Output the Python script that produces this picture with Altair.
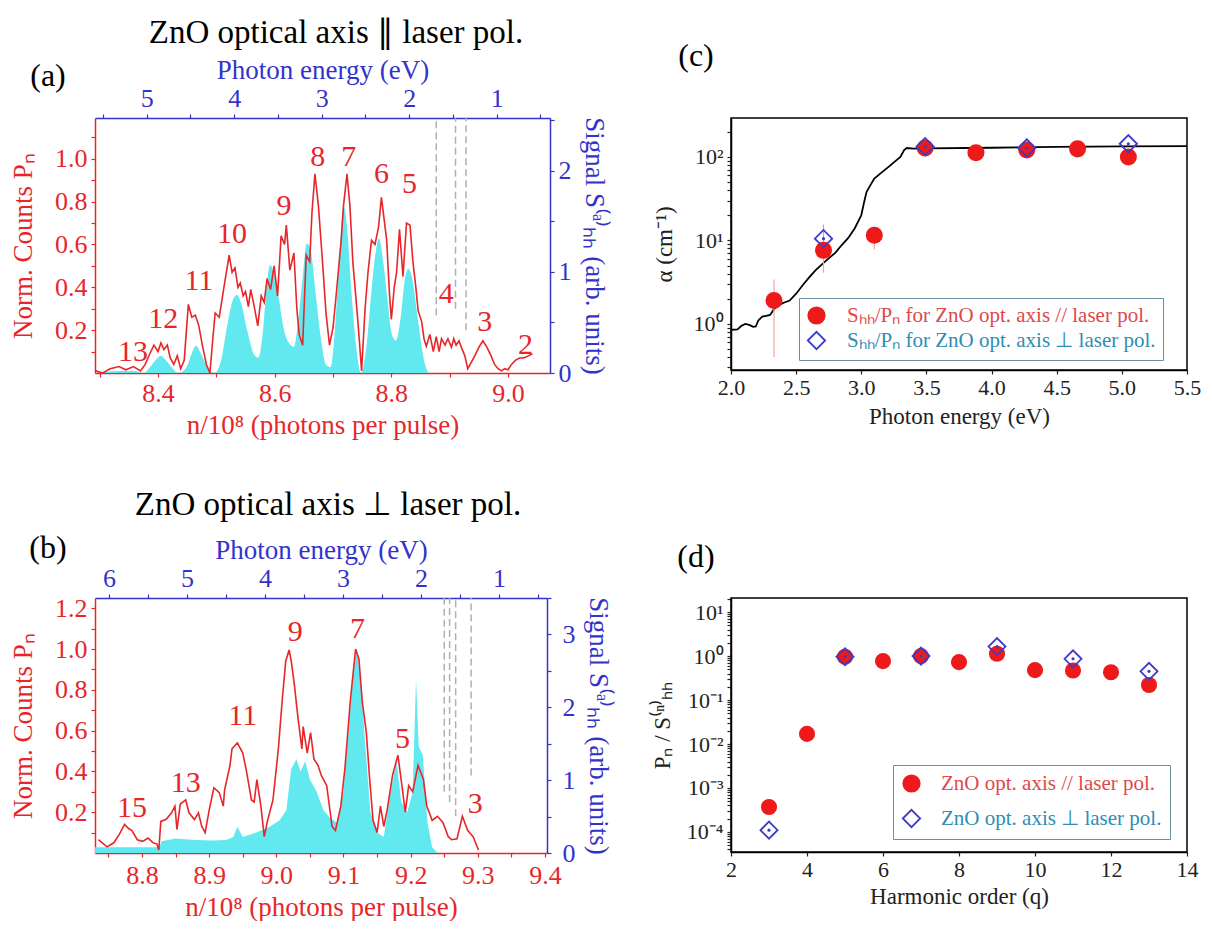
import altair as alt
import pandas as pd

FONT = "Liberation Serif"
RED = "#e8262a"
BLUE = "#3333cc"
CYAN = "#62e9ef"
GRAY = "#b0b0b0"
DOTRED = "#ee1a1a"
DIAM = "#3c3cc8"
LRED = "#e0484a"
TEAL = "#2f8db5"
INK = "#222222"

# ---------------- panel (a): optical axis parallel ----------------
a_red_n = [8.293, 8.305, 8.318, 8.333, 8.345, 8.358, 8.370, 8.378, 8.386, 8.393,
           8.400, 8.405, 8.410, 8.416, 8.421, 8.427, 8.433, 8.439, 8.445, 8.452,
           8.458, 8.464, 8.470, 8.476, 8.483, 8.489, 8.494, 8.498, 8.505, 8.513,
           8.522, 8.527, 8.532, 8.537, 8.541, 8.546, 8.550, 8.555, 8.559, 8.565,
           8.571, 8.577, 8.582, 8.587, 8.593, 8.599, 8.605, 8.611, 8.617, 8.620,
           8.626, 8.633, 8.638, 8.642, 8.648, 8.654, 8.660, 8.664, 8.669, 8.675,
           8.682, 8.688, 8.694, 8.700, 8.705, 8.709, 8.714, 8.718, 8.724, 8.729,
           8.734, 8.739, 8.743, 8.749, 8.755, 8.760, 8.766, 8.772, 8.778, 8.783,
           8.788, 8.792, 8.797, 8.800, 8.805, 8.809, 8.814, 8.820, 8.826, 8.832,
           8.837, 8.842, 8.846, 8.852, 8.856, 8.860, 8.866, 8.872, 8.877, 8.882,
           8.886, 8.892, 8.897, 8.903, 8.907, 8.911, 8.916, 8.920, 8.926, 8.931,
           8.937, 8.943, 8.950, 8.957, 8.964, 8.971, 8.977, 8.983, 8.989, 8.994,
           9.000, 9.006, 9.013, 9.020, 9.027, 9.035, 9.042]
a_red_v = [0.01, 0.00, 0.02, 0.03, 0.015, 0.03, 0.01, 0.04, 0.09, 0.13,
           0.10, 0.14, 0.11, 0.13, 0.07, 0.04, 0.08, 0.02, 0.06, 0.32,
           0.26, 0.27, 0.22, 0.13, 0.04, 0.00, 0.16, 0.28, 0.26, 0.40,
           0.55, 0.47, 0.49, 0.40, 0.42, 0.36, 0.38, 0.31, 0.39, 0.31,
           0.22, 0.36, 0.33, 0.44, 0.39, 0.50, 0.36, 0.64, 0.60, 0.69,
           0.48, 0.56, 0.30, 0.18, 0.13, 0.55, 0.52, 0.75, 0.93, 0.78,
           0.52, 0.28, 0.13, 0.21, 0.35, 0.47, 0.62, 0.78, 0.93, 0.78,
           0.52, 0.36, 0.23, 0.01, 0.30, 0.47, 0.62, 0.60, 0.68, 0.82,
           0.71, 0.62, 0.36, 0.25, 0.40, 0.47, 0.67, 0.45, 0.70, 0.69,
           0.52, 0.40, 0.29, 0.24, 0.16, 0.125, 0.18, 0.10, 0.17, 0.10,
           0.16, 0.13, 0.16, 0.12, 0.16, 0.13, 0.15, 0.12, 0.08, 0.02,
           0.05, 0.08, 0.12, 0.15, 0.12, 0.08, 0.04, 0.02, 0.01, 0.02,
           0.015, 0.04, 0.06, 0.07, 0.07, 0.08, 0.09]
a_cyan_n = [8.292, 8.330, 8.360, 8.375, 8.388, 8.398, 8.405, 8.413, 8.423, 8.435,
            8.448, 8.457, 8.465, 8.473, 8.483, 8.497, 8.508, 8.518, 8.527, 8.535,
            8.543, 8.553, 8.565, 8.572, 8.580, 8.587, 8.592, 8.598, 8.606, 8.615,
            8.624, 8.633, 8.641, 8.648, 8.655, 8.662, 8.670, 8.679, 8.688, 8.696,
            8.703, 8.710, 8.718, 8.724, 8.731, 8.739, 8.748, 8.758, 8.765, 8.772,
            8.779, 8.786, 8.794, 8.801, 8.808, 8.816, 8.823, 8.829, 8.836, 8.844,
            8.852, 8.858, 8.864]
a_cyan_s = [0.00, 0.02, 0.02, 0.00, 0.07, 0.14, 0.17, 0.13, 0.06, 0.00,
            0.05, 0.18, 0.27, 0.20, 0.08, 0.00, 0.12, 0.45, 0.70, 0.77,
            0.68, 0.42, 0.18, 0.15, 0.42, 0.90, 1.07, 1.00, 0.78, 0.45,
            0.30, 0.26, 0.55, 0.95, 1.28, 1.20, 0.80, 0.35, 0.08, 0.06,
            0.40, 1.05, 1.65, 1.45, 0.85, 0.30, 0.00, 0.30, 0.75, 1.15,
            1.33, 1.10, 0.70, 0.38, 0.32, 0.55, 0.92, 1.03, 0.93, 0.60,
            0.26, 0.08, 0.00]
a_lab_t = ["13", "12", "11", "10", "9", "8", "7", "6", "5", "4", "3", "2"]
a_lab_n = [8.357, 8.409, 8.470, 8.527, 8.616, 8.674, 8.727, 8.783, 8.831, 8.894, 8.960, 9.030]
a_lab_v = [0.10, 0.25, 0.43, 0.65, 0.78, 1.01, 1.01, 0.93, 0.88, 0.37, 0.24, 0.13]
a_dash_n = [8.877, 8.910, 8.928]
a_dash_v = [0.27, 0.30, 0.20]
a_xticks = [8.3, 8.4, 8.5, 8.6, 8.7, 8.8, 8.9, 9.0]
a_yticks = [0.1, 0.2, 0.3, 0.4, 0.5, 0.6, 0.7, 0.8, 0.9, 1.0, 1.1]
a_sticks = [0, 0.5, 1, 1.5, 2, 2.5]
a_eticks = [0.5, 1, 1.5, 2, 2.5, 3, 3.5, 4, 4.5, 5, 5.5]

# ---------------- panel (b): optical axis perpendicular ----------------
b_red_n = [8.735, 8.748, 8.758, 8.766, 8.774, 8.780, 8.785, 8.793, 8.801, 8.809,
           8.817, 8.822, 8.825, 8.828, 8.836, 8.844, 8.849, 8.852, 8.857, 8.865,
           8.870, 8.878, 8.884, 8.889, 8.894, 8.900, 8.907, 8.915, 8.921, 8.923,
           8.931, 8.934, 8.942, 8.950, 8.955, 8.963, 8.967, 8.971, 8.977, 8.982,
           8.987, 8.995, 9.003, 9.009, 9.014, 9.019, 9.022, 9.027, 9.032, 9.038,
           9.040, 9.046, 9.051, 9.056, 9.062, 9.067, 9.075, 9.083, 9.088, 9.096,
           9.102, 9.110, 9.118, 9.123, 9.128, 9.134, 9.139, 9.144, 9.150, 9.155,
           9.160, 9.165, 9.173, 9.181, 9.187, 9.192, 9.197, 9.203, 9.211, 9.219,
           9.224, 9.232, 9.240, 9.248, 9.256, 9.261, 9.269, 9.277, 9.285, 9.293,
           9.301]
b_red_v = [0.065, 0.03, 0.05, 0.09, 0.14, 0.12, 0.11, 0.065, 0.057, 0.073,
           0.049, 0.045, 0.015, 0.155, 0.165, 0.197, 0.23, 0.115, 0.24, 0.26,
           0.197, 0.164, 0.197, 0.13, 0.10, 0.21, 0.32, 0.296, 0.23, 0.31,
           0.43, 0.51, 0.54, 0.49, 0.41, 0.26, 0.25, 0.36, 0.23, 0.08,
           0.16, 0.26, 0.51, 0.76, 0.94, 0.995, 0.945, 0.82, 0.67, 0.51,
           0.62, 0.49, 0.59, 0.46, 0.43, 0.38, 0.33, 0.13, 0.11, 0.23,
           0.41, 0.74, 1.00, 0.95, 0.74, 0.59, 0.36, 0.16, 0.10, 0.23,
           0.13, 0.21, 0.38, 0.48, 0.33, 0.20, 0.33, 0.30, 0.43, 0.36,
           0.23, 0.16, 0.18, 0.15, 0.08, 0.065, 0.07, 0.18, 0.11, 0.08,
           0.015]
b_cyan_n = [8.730, 8.826, 8.829, 8.850, 8.880, 8.905, 8.925, 8.936, 8.942, 8.950,
            8.970, 8.990, 9.005, 9.015, 9.022, 9.030, 9.036, 9.043, 9.050, 9.060,
            9.070, 9.080, 9.090, 9.100, 9.108, 9.116, 9.120, 9.126, 9.132, 9.140,
            9.150, 9.160, 9.170, 9.179, 9.186, 9.195, 9.203, 9.208, 9.212, 9.218,
            9.225, 9.232, 9.240]
b_cyan_s = [0.08, 0.08, 0.16, 0.20, 0.18, 0.17, 0.18, 0.22, 0.36, 0.22,
            0.28, 0.36, 0.45, 0.59, 1.15, 1.29, 1.12, 1.26, 1.01, 0.84,
            0.59, 0.48, 0.42, 0.84, 1.74, 2.65, 2.78, 2.33, 1.54, 0.56,
            0.28, 0.22, 0.84, 1.26, 0.70, 0.56, 0.84, 2.39, 1.46, 1.35,
            0.42, 0.08, 0.00]
b_lab_t = ["15", "13", "11", "9", "7", "5", "3"]
b_lab_n = [8.785, 8.865, 8.950, 9.028, 9.121, 9.188, 9.296]
b_lab_v = [0.22, 0.345, 0.67, 1.085, 1.10, 0.56, 0.24]
b_dash_n = [9.250, 9.258, 9.267, 9.290]
b_dash_v = [0.30, 0.25, 0.18, 0.38]
b_xticks = [8.75, 8.8, 8.85, 8.9, 8.95, 9.0, 9.05, 9.1, 9.15, 9.2, 9.25, 9.3,
            9.35, 9.4]
b_yticks = [0.1, 0.2, 0.3, 0.4, 0.5, 0.6, 0.7, 0.8, 0.9, 1.0, 1.1, 1.2]
b_sticks = [0, 0.5, 1, 1.5, 2, 2.5, 3, 3.5]
b_eticks = [0.5, 1, 1.5, 2, 2.5, 3, 3.5, 4, 4.5, 5, 5.5, 6]

# ---------------- panel (c): absorption ----------------
c_line_e = [2.00, 2.05, 2.08, 2.11, 2.14, 2.17, 2.19, 2.21, 2.24, 2.27,
            2.30, 2.33, 2.36, 2.40, 2.45, 2.50, 2.55, 2.60, 2.65, 2.70,
            2.75, 2.80, 2.85, 2.90, 2.95, 3.00, 3.02, 3.04, 3.07, 3.10,
            3.15, 3.20, 3.25, 3.30, 3.33, 3.35, 3.40, 3.50, 4.00, 4.50,
            5.00, 5.50]
c_line_a = [0.85, 0.86, 0.95, 1.00, 0.97, 0.92, 0.93, 1.10, 1.22, 1.25,
            1.28, 1.50, 1.65, 1.78, 1.90, 2.30, 2.90, 3.60, 4.40, 5.20,
            6.10, 7.10, 8.80, 10.7, 14.0, 20.0, 28.0, 38.0, 46.0, 55.0,
            64.0, 74.0, 86.0, 100.0, 122.0, 128.0, 126.0, 127.0, 129.0, 132.0,
            134.0, 135.0]
c_par_e = [2.33, 2.71, 3.10, 3.49, 3.88, 4.27, 4.66, 5.05]
c_par_a = [1.9, 7.6, 11.5, 128.0, 112.0, 121.0, 125.0, 100.0]
c_par_err_e = [2.33, 2.71, 3.10]
c_par_err_lo = [0.4, 4.1, 7.8]
c_par_err_hi = [3.4, 10.0, 14.5]
c_perp_e = [2.71, 3.49, 4.27, 5.05]
c_perp_a = [10.5, 133.0, 128.0, 144.0]
c_perp_err_e = [2.71]
c_perp_err_lo = [8.0]
c_perp_err_hi = [15.5]
c_xticks = [2.0, 2.25, 2.5, 2.75, 3.0, 3.25, 3.5, 3.75, 4.0, 4.25, 4.5, 4.75,
            5.0, 5.25, 5.5]
c_yticks = [0.3, 0.4, 0.5, 0.6, 0.7, 0.8, 0.9, 1, 2, 3, 4, 5, 6, 7, 8, 9,
            10, 20, 30, 40, 50, 60, 70, 80, 90, 100, 200]
c_leg_par = "Sₕₕ/Pₙ for ZnO opt. axis // laser pol."
c_leg_perp = "Sₕₕ/Pₙ for ZnO opt. axis ⊥ laser pol."

# ---------------- panel (d): ratio vs harmonic order ----------------
d_par_q = [3, 4, 5, 6, 7, 8, 9, 10, 11, 12, 13]
d_par_p = [3.7e-4, 0.017, 0.97, 0.77, 1.0, 0.73, 1.13, 0.48, 0.47, 0.43, 0.22]
d_perp_q = [3, 5, 7, 9, 11, 13]
d_perp_p = [1.1e-4, 0.97, 1.0, 1.65, 0.87, 0.45]
d_xticks = [2, 3, 4, 5, 6, 7, 8, 9, 10, 11, 12, 13, 14]
d_yticks = [4e-5, 5e-5, 6e-5, 7e-5, 8e-5, 9e-5,
            1e-4, 2e-4, 3e-4, 4e-4, 5e-4, 6e-4, 7e-4, 8e-4, 9e-4,
            1e-3, 2e-3, 3e-3, 4e-3, 5e-3, 6e-3, 7e-3, 8e-3, 9e-3,
            1e-2, 2e-2, 3e-2, 4e-2, 5e-2, 6e-2, 7e-2, 8e-2, 9e-2,
            0.1, 0.2, 0.3, 0.4, 0.5, 0.6, 0.7, 0.8, 0.9,
            1, 2, 3, 4, 5, 6, 7, 8, 9, 10, 20]
d_leg_par = "ZnO opt. axis //  laser pol."
d_leg_perp = "ZnO opt. axis ⊥ laser pol."

L10 = "round(log(datum.value)/LN10)"
LOGLBL = ("abs(log(datum.value)/LN10 - " + L10 + ") > 0.01 ? '' : "
          + L10 + " == -4 ? '10⁻⁴' : " + L10 + " == -3 ? '10⁻³' : "
          + L10 + " == -2 ? '10⁻²' : " + L10 + " == -1 ? '10⁻¹' : "
          + L10 + " == 0 ? '10⁰' : " + L10 + " == 1 ? '10¹' : '10²'")


def axis(color, **kw):
    d = dict(grid=False, domainColor=color, tickColor=color, labelColor=color,
             titleColor=color, labelFont=FONT, titleFont=FONT,
             titleFontWeight="normal", domainWidth=1.5, tickWidth=1.2,
             labelFlush=False, labelOverlap=False)
    d.update(kw)
    return alt.Axis(**d)


def note(text, x, y, size, color="black", align="center", baseline="middle"):
    return alt.Chart(pd.DataFrame({"t": [text]})).mark_text(
        font=FONT, fontSize=size, color=color, align=align, baseline=baseline
    ).encode(x=alt.value(x), y=alt.value(y), text="t:N")


def spectrum(red_n, red_v, cy_n, cy_s, lab_t, lab_n, lab_v, dash_n, dash_v,
             xdom, ydom, sdom, edom, xticks, xlbl, yticks, sticks, eticks,
             w, h, heading, hx, hy, plabel, px, py, interp, rpad, bpad,
             extra=None):
    def xs():
        return alt.Scale(domain=xdom, nice=False, zero=False)

    def ys():
        return alt.Scale(domain=ydom, nice=False, zero=False)

    int_lbl = "datum.value == round(datum.value) ? format(datum.value, 'd') : ''"
    area = alt.Chart(pd.DataFrame({"n": cy_n, "s": cy_s})).mark_area(
        color=CYAN, clip=True, interpolate=interp, opacity=1
    ).encode(
        x=alt.X("n:Q", scale=xs(), axis=None),
        y=alt.Y("s:Q", scale=alt.Scale(domain=sdom, nice=False, zero=False),
                axis=axis(BLUE, orient="right", values=sticks, labelExpr=int_lbl,
                          title="Signal S⁽ᵃ⁾ₕₕ (arb. units)", labelFontSize=26,
                          titleFontSize=27, tickSize=4, labelPadding=rpad,
                          titlePadding=8)),
    )
    line = alt.Chart(pd.DataFrame({"n": red_n, "v": red_v})).mark_line(
        color=RED, strokeWidth=1.6, clip=True
    ).encode(
        x=alt.X("n:Q", scale=xs(),
                axis=axis(RED, orient="bottom", values=xticks, labelExpr=xlbl,
                          title="n/10⁸ (photons per pulse)", labelFontSize=26,
                          titleFontSize=27, tickSize=4, labelPadding=bpad,
                          titlePadding=6)),
        y=alt.Y("v:Q", scale=ys(),
                axis=axis(RED, orient="left", values=yticks,
                          labelExpr="round(datum.value*10) % 2 == 0 ? format(datum.value, '.1f') : ''",
                          title="Norm. Counts Pₙ", labelFontSize=26,
                          titleFontSize=27, tickSize=4, labelPadding=4,
                          titlePadding=17)),
    )
    dash = alt.Chart(pd.DataFrame({"n": dash_n, "v": dash_v})).mark_rule(
        color=GRAY, strokeDash=[7, 4], strokeWidth=1.5
    ).encode(
        x=alt.X("n:Q", scale=xs(), axis=None),
        y=alt.Y("v:Q", scale=ys(), axis=None),
        y2=alt.value(0),
    )
    labs = alt.Chart(pd.DataFrame({"t": lab_t, "n": lab_n, "v": lab_v})).mark_text(
        font=FONT, fontSize=30, color=RED
    ).encode(
        x=alt.X("n:Q", scale=xs(), axis=None),
        y=alt.Y("v:Q", scale=ys(), axis=None),
        text="t:N",
    )
    top = alt.Chart(pd.DataFrame({"e": eticks})).mark_point(opacity=0).encode(
        x=alt.X("e:Q", scale=alt.Scale(domain=edom, nice=False, zero=False, reverse=True),
                axis=axis(BLUE, orient="top", values=eticks, labelExpr=int_lbl,
                          title="Photon energy (eV)", labelFontSize=26,
                          titleFontSize=27, tickSize=4, labelPadding=3,
                          titlePadding=1)),
        y=alt.value(0),
    )
    layers = [area, dash, line, labs, top,
              note(heading, hx, hy, 33), note(plabel, px, py, 32)]
    if extra is not None:
        layers.append(extra)
    return alt.layer(*layers).resolve_scale(
        x="independent", y="independent"
    ).properties(width=w, height=h)


anchor = note(" ", -94, -117, 10, align="left", baseline="top")

pa = spectrum(a_red_n, a_red_v, a_cyan_n, a_cyan_s, a_lab_t, a_lab_n, a_lab_v,
              a_dash_n, a_dash_v,
              xdom=[8.292, 9.072], ydom=[0, 1.19], sdom=[0, 2.52], edom=[0.39, 5.59],
              xticks=a_xticks,
              xlbl="round(datum.value*10) % 2 == 0 ? format(datum.value, '.1f') : ''",
              yticks=a_yticks, sticks=a_sticks, eticks=a_eticks, w=455, h=255,
              heading="ZnO optical axis ∥ laser pol.", hx=241, hy=-85,
              plabel="(a)", px=-47, py=-42, interp="monotone", rpad=4, bpad=3,
              extra=anchor)

pb = spectrum(b_red_n, b_red_v, b_cyan_n, b_cyan_s, b_lab_t, b_lab_n, b_lab_v,
              b_dash_n, b_dash_v,
              xdom=[8.73, 9.403], ydom=[0, 1.25], sdom=[0, 3.5], edom=[0.385, 6.18],
              xticks=b_xticks,
              xlbl="round(datum.value*100) % 10 == 0 ? format(datum.value, '.1f') : ''",
              yticks=b_yticks, sticks=b_sticks, eticks=b_eticks, w=452, h=255,
              heading="ZnO optical axis ⊥ laser pol.", hx=233, hy=-93,
              plabel="(b)", px=-47, py=-50, interp="linear", rpad=11, bpad=5)


def legends(lx, ly, fs, pad, gap_title, gap_pad, loff):
    leg_par = alt.Legend(orient="none", legendX=lx, legendY=ly, title=None,
                         padding=pad, labelFont=FONT, labelFontSize=fs,
                         labelColor=LRED, symbolType="circle", symbolSize=330,
                         symbolStrokeWidth=0, labelOffset=loff, zindex=2,
                         labelLimit=500)
    leg_perp = alt.Legend(orient="none", legendX=lx, legendY=ly, title="\u00a0",
                          titleFontSize=gap_title, titlePadding=gap_pad,
                          padding=pad, labelFont=FONT, labelFontSize=fs,
                          labelColor=TEAL, symbolType="diamond", symbolSize=300,
                          symbolStrokeWidth=1.8, labelOffset=loff,
                          strokeColor="#6b8fa3", fillColor="white", zindex=1,
                          labelLimit=500)
    return leg_par, leg_perp


# panel (c)
xs_c = alt.Scale(domain=[2.0, 5.5], nice=False, zero=False)
ys_c = alt.Scale(type="log", domain=[0.28, 293], nice=False)
lp_c, lq_c = legends(68, 180, 21, 7, 20, 5, 20)

c_line = alt.Chart(pd.DataFrame({"e": c_line_e, "a": c_line_a})).mark_line(
    color="black", strokeWidth=1.8
).encode(
    x=alt.X("e:Q", scale=xs_c,
            axis=axis(INK, values=c_xticks,
                      labelExpr="datum.value*2 == round(datum.value*2) ? format(datum.value, '.1f') : ''",
                      title="Photon energy (eV)", labelFontSize=22, titleFontSize=23,
                      tickSize=4, labelPadding=3, titlePadding=7, domainColor="black")),
    y=alt.Y("a:Q", scale=ys_c,
            axis=axis(INK, values=c_yticks, labelExpr=LOGLBL,
                      title="α (cm⁻¹)", labelFontSize=22, titleFontSize=23,
                      tickSize=4, labelPadding=4, titlePadding=17, domainColor="black")),
)
c_err_par = alt.Chart(pd.DataFrame({"e": c_par_err_e, "lo": c_par_err_lo,
                                    "hi": c_par_err_hi})).mark_rule(
    color="#f3a3a3", strokeWidth=1.2
).encode(x=alt.X("e:Q", scale=xs_c), y=alt.Y("lo:Q", scale=ys_c), y2="hi:Q")
c_err_perp = alt.Chart(pd.DataFrame({"e": c_perp_err_e, "lo": c_perp_err_lo,
                                     "hi": c_perp_err_hi})).mark_rule(
    color="#a8a8e8", strokeWidth=1.2
).encode(x=alt.X("e:Q", scale=xs_c), y=alt.Y("lo:Q", scale=ys_c), y2="hi:Q")
c_par = alt.Chart(pd.DataFrame({"e": c_par_e, "a": c_par_a,
                                "lab1": [c_leg_par] * len(c_par_e)})).mark_circle(
    size=290, opacity=1
).encode(
    x=alt.X("e:Q", scale=xs_c), y=alt.Y("a:Q", scale=ys_c),
    color=alt.Color("lab1:N", scale=alt.Scale(domain=[c_leg_par], range=[DOTRED]),
                    legend=lp_c),
)
c_perp = alt.Chart(pd.DataFrame({"e": c_perp_e, "a": c_perp_a,
                                 "lab2": [c_leg_perp] * len(c_perp_e)})).mark_point(
    shape="diamond", size=300, filled=False, strokeWidth=1.8, opacity=1
).encode(
    x=alt.X("e:Q", scale=xs_c), y=alt.Y("a:Q", scale=ys_c),
    stroke=alt.Stroke("lab2:N", scale=alt.Scale(domain=[c_leg_perp], range=[DIAM]),
                      legend=lq_c),
)
c_dot = alt.Chart(pd.DataFrame({"e": c_perp_e, "a": c_perp_a})).mark_point(
    filled=True, size=10, color=DIAM, opacity=1
).encode(x=alt.X("e:Q", scale=xs_c), y=alt.Y("a:Q", scale=ys_c))

pc = alt.layer(c_line, c_err_par, c_err_perp, c_par, c_perp, c_dot,
               note("(c)", -35, -62, 32)).properties(
    width=456, height=252,
    view=alt.ViewBackground(stroke="black", strokeWidth=1.5))

# panel (d)
xs_d = alt.Scale(domain=[2, 14], nice=False, zero=False)
ys_d = alt.Scale(type="log", domain=[3.5e-5, 21], nice=False)
lp_d, lq_d = legends(162, 167, 21, 8, 22, 13, 19)

d_par = alt.Chart(pd.DataFrame({"q": d_par_q, "p": d_par_p,
                                "lab3": [d_leg_par] * len(d_par_q)})).mark_circle(
    size=260, opacity=1
).encode(
    x=alt.X("q:Q", scale=xs_d,
            axis=axis(INK, values=d_xticks,
                      labelExpr="datum.value % 2 == 0 ? format(datum.value, 'd') : ''",
                      title="Harmonic order (q)", labelFontSize=22, titleFontSize=23,
                      tickSize=4, labelPadding=3, titlePadding=5, domainColor="black")),
    y=alt.Y("p:Q", scale=ys_d,
            axis=axis(INK, values=d_yticks, labelExpr=LOGLBL,
                      title="Pₙ / S⁽ⁿ⁾ₕₕ", labelFontSize=22, titleFontSize=23,
                      tickSize=4, labelPadding=4, titlePadding=12, domainColor="black")),
    color=alt.Color("lab3:N", scale=alt.Scale(domain=[d_leg_par], range=[DOTRED]),
                    legend=lp_d),
)
d_perp = alt.Chart(pd.DataFrame({"q": d_perp_q, "p": d_perp_p,
                                 "lab4": [d_leg_perp] * len(d_perp_q)})).mark_point(
    shape="diamond", size=290, filled=False, strokeWidth=1.8, opacity=1
).encode(
    x=alt.X("q:Q", scale=xs_d), y=alt.Y("p:Q", scale=ys_d),
    stroke=alt.Stroke("lab4:N", scale=alt.Scale(domain=[d_leg_perp], range=[DIAM]),
                      legend=lq_d),
)
d_dot = alt.Chart(pd.DataFrame({"q": d_perp_q, "p": d_perp_p})).mark_point(
    filled=True, size=10, color=DIAM, opacity=1
).encode(x=alt.X("q:Q", scale=xs_d), y=alt.Y("p:Q", scale=ys_d))

pd_ = alt.layer(d_par, d_perp, d_dot, note("(d)", -35, -41, 32)).properties(
    width=456, height=254,
    view=alt.ViewBackground(stroke="black", strokeWidth=1.5))

chart = alt.concat(
    pa, pc, pb, pd_, columns=2,
    spacing=alt.RowColnumber(row=225, column=181), bounds="flush"
).resolve_scale(
    color="independent", stroke="independent"
).resolve_legend(
    color="independent", stroke="independent"
).properties(padding=0).configure_view(stroke=None).configure(font=FONT)

chart.save("out.html", embed_options={"renderer": "svg", "actions": False})
